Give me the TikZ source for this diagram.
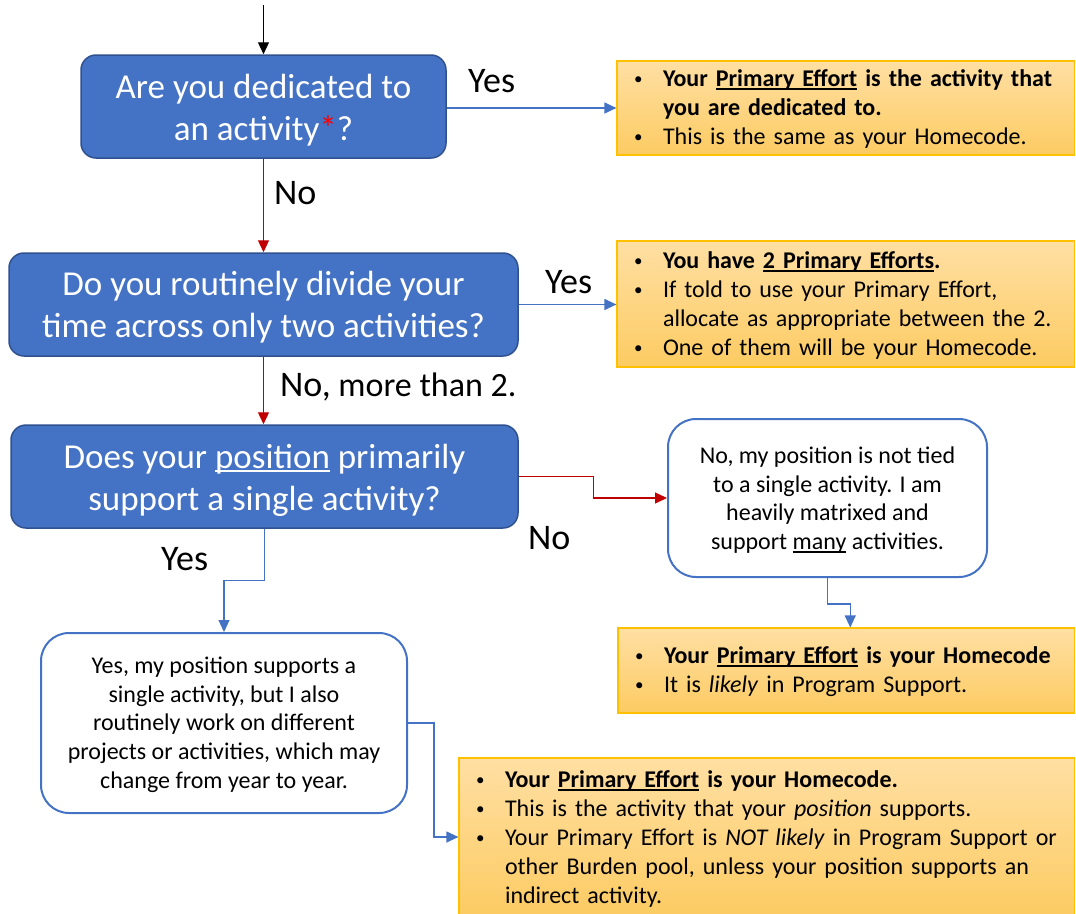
\documentclass[tikz,border=0pt]{standalone}
\usepackage{fontspec}
\setmainfont{Carlito}
\usetikzlibrary{arrows.meta,calc}
\definecolor{bfill}{HTML}{4472C4}
\definecolor{bdraw}{HTML}{2F528F}
\definecolor{ored}{HTML}{C00000}
\definecolor{oline}{HTML}{FFC000}
\definecolor{otop}{HTML}{FFDFA3}
\definecolor{obot}{HTML}{FCCB62}
\newcommand\ulx[1]{\leavevmode\setbox0=\hbox{#1}\rlap{\rule[-3.5pt]{\wd0}{1.6pt}}\box0\relax}
\newcommand\bul{\makebox[31pt][l]{\hspace*{2pt}\raisebox{1.5pt}{\fontsize{17}{20}\selectfont •}}}
\newcommand\ind{\hspace*{31pt}}
\newcommand\tb[1]{\rule{0pt}{#1pt}}
\newcommand\bb[1]{\rule[-#1pt]{0pt}{#1pt}}
\tikzset{
  qbox/.style={draw=bdraw, line width=1.5pt, fill=bfill, rounded corners=15pt, text=white,
    align=center, font=\fontsize{35}{42}\selectfont, inner sep=0pt},
  wbox/.style={draw=bfill, line width=2pt, fill=white, rounded corners=28pt,
    align=center, font=\fontsize{24}{28.7}\selectfont, inner sep=0pt},
  obox/.style={draw=oline, line width=1.2pt, top color=otop, bottom color=obot,
    inner xsep=15pt, inner ysep=0pt, align=left, font=\fontsize{24}{29}\selectfont},
  lab/.style={anchor=base west, inner sep=0pt, font=\fontsize{36}{40}\selectfont},
  tip/.style={-{Triangle[length=12pt,width=11pt]}},
  rarr/.style={draw=ored, line width=1.2pt, tip},
  barr/.style={draw=bfill, line width=1.2pt, tip},
  karr/.style={draw=black, line width=1.2pt, tip}
}
\begin{document}
\begin{tikzpicture}[x=1pt,y=-1pt]
\useasboundingbox (0,0) rectangle (1076,913);

% decision boxes
\node[qbox, minimum width=365pt, minimum height=103pt] (b1) at (263.5,106.5)
  {\tb{35}Are you dedicated to\\an activity{\color{red}*}?\bb{10}};
\node[qbox, minimum width=509pt, minimum height=103pt] (b2) at (263.5,304.5)
  {\tb{33}Do you routinely divide your\\time across only two activities?\bb{10}};
\node[qbox, minimum width=507pt, minimum height=103pt] (b3) at (264.5,476.5)
  {\tb{35}Does your \ulx{position} primarily\\support a single activity?\bb{10}};

% white boxes
\node[wbox, minimum width=319pt, minimum height=158pt] (bn) at (827.5,498)
  {\tb{25}No, my position is not tied\\to a single activity. I am\\heavily matrixed and\\support \ulx{many} activities.\bb{8}};
\node[wbox, minimum width=366pt, minimum height=180pt] (by) at (224,723)
  {\tb{23.3}Yes, my position supports a\\single activity, but I also\\routinely work on different\\projects or activities, which may\\change from year to year.\bb{7.7}};

% result boxes
\node[obox, minimum width=457.5pt, minimum height=94pt, text width=427.5pt] (o1) at (845.75,108)
  {\tb{22}\bul\textbf{Your \ulx{Primary Effort} is the activity that}\\\ind\textbf{you are dedicated to.}\\\bul This is the same as your Homecode.\bb{7.3}};
\node[obox, minimum width=457.5pt, minimum height=126pt, text width=427.5pt] (o2) at (845.75,304)
  {\tb{22}\bul\textbf{You have \ulx{2 Primary Efforts}.}\\\bul If told to use your Primary Effort,\\\ind allocate as appropriate between the 2.\\\bul One of them will be your Homecode.\bb{7}};
\node[obox, minimum width=456.5pt, minimum height=85pt, text width=426.5pt] (o3) at (846.25,670.5)
  {\tb{22}\bul\textbf{Your \ulx{Primary Effort} is your Homecode}\\\bul It is \textit{likely} in Program Support.\bb{8}};
\node[obox, minimum width=615.5pt, minimum height=158pt, text width=585.5pt] (o4) at (766.75,837)
  {\tb{23}\bul\textbf{Your \ulx{Primary Effort} is your Homecode.}\\\bul This is the activity that your \textit{position} supports.\\\bul Your Primary Effort is \textit{NOT likely} in Program Support or\\\ind other Burden pool, unless your position supports an\\\ind indirect activity.\bb{7}};

% labels
\node[lab] (y1) at (468,92) {Yes};
\node[lab] (n1) at (274,204) {No};
\node[lab] (y2) at (545,293) {Yes};
\node[lab] (n2) at (280,396.7) {No,\fontsize{34}{38}\selectfont\ more than 2.};
\node[lab] (n3) at (528,549) {No};
\node[lab] (y3) at (161,570) {Yes};

% connectors
\coordinate (start) at (263.5,5);
\draw[karr] (start) -- (b1.north);
\draw[barr] (b1.east |- o1.west) -- (o1.west);
\draw[rarr] (b1.south) -- (b2.north);
\draw[barr] (b2.east) -- (b2.east -| o2.west);
\draw[rarr] (b2.south) -- (b2.south |- b3.north);
\draw[rarr] (b3.east) -- ++(75,0) |- (bn.west);
\draw[barr] (b3.south) -- ++(0,52) -| (by.north);
\draw[barr] (bn.south) -- ++(0,26) -| ([xshift=4pt]o3.north);
\draw[barr] (by.east) -- ++(26,0) |- (o4.west);
\end{tikzpicture}
\end{document}
